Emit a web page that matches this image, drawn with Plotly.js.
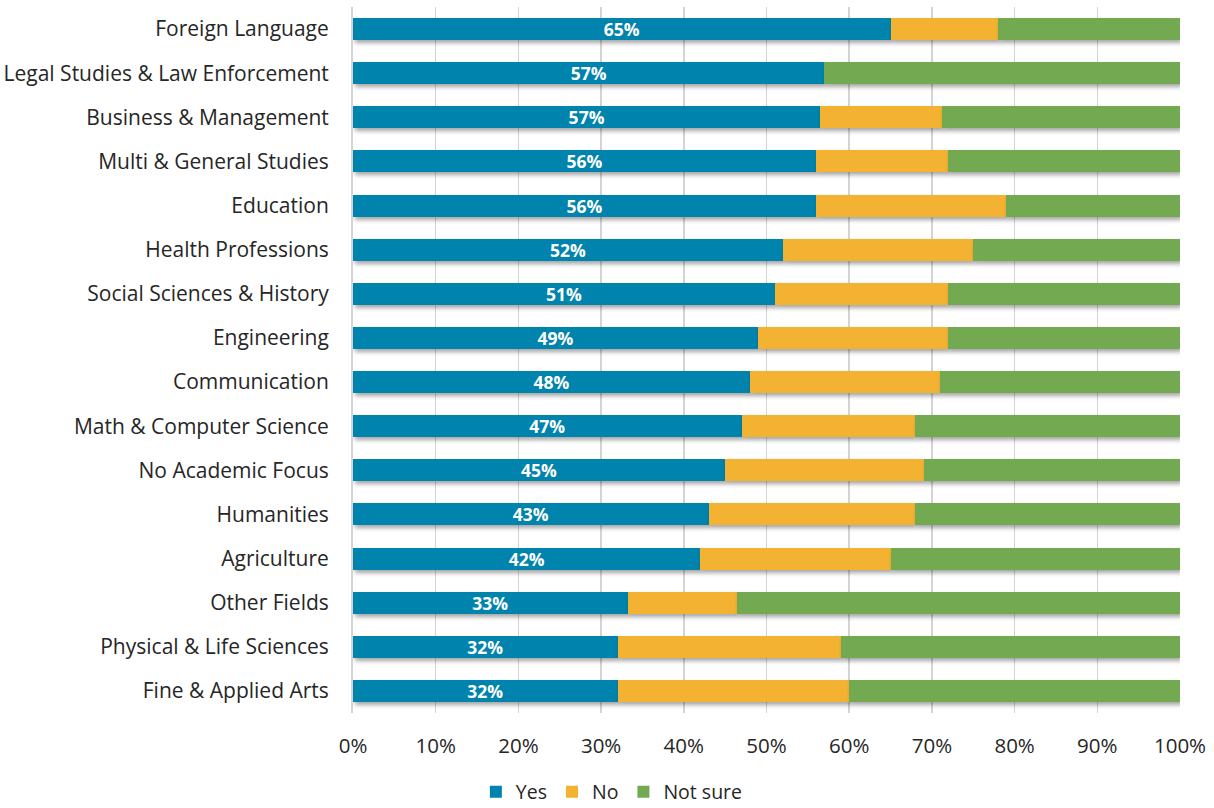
<!DOCTYPE html>
<html>
<head>
<meta charset="utf-8">
<script src="https://cdn.plot.ly/plotly-3.0.1.min.js"></script>
<style>
html,body{margin:0;padding:0;background:#fff;}
#chart{width:1214px;height:808px;}
.trace.bars .point path{filter:drop-shadow(2px 3px 2px rgba(0,0,0,0.35));}
</style>
</head>
<body>
<div id="chart"></div>
<script>
const categories = [
  "Foreign Language",
  "Legal Studies & Law Enforcement",
  "Business & Management",
  "Multi & General Studies",
  "Education",
  "Health Professions",
  "Social Sciences & History",
  "Engineering",
  "Communication",
  "Math & Computer Science",
  "No Academic Focus",
  "Humanities",
  "Agriculture",
  "Other Fields",
  "Physical & Life Sciences",
  "Fine & Applied Arts"
];
const yesValues     = [65, 57, 56.5, 56, 56, 52, 51, 49, 48, 47, 45, 43, 42, 33.2, 32, 32];
const noValues      = [13, 0, 14.7, 16, 23, 23, 21, 23, 23, 21, 24, 25, 23, 13.2, 27, 28];
const notSureValues = [22, 43, 28.8, 28, 21, 25, 28, 28, 29, 32, 31, 32, 35, 53.6, 41, 40];
const xTickValues = [0, 10, 20, 30, 40, 50, 60, 70, 80, 90, 100];
const xTickLabels = ["0%", "10%", "20%", "30%", "40%", "50%", "60%", "70%", "80%", "90%", "100%"];

const font = "'Open Sans', 'Noto Sans', sans-serif";

const traces = [
  {
    type: "bar", orientation: "h", name: "Yes",
    y: categories, x: yesValues,
    marker: {color: "#0083ac"},
    texttemplate: "<b>%{x:.0f}%</b>",
    textposition: "inside", insidetextanchor: "middle",
    textfont: {color: "#ffffff", size: 17.5, family: font},
    constraintext: "none",
    hoverinfo: "x+y"
  },
  {
    type: "bar", orientation: "h", name: "No",
    y: categories, x: noValues,
    marker: {color: "#f3b232"},
    hoverinfo: "x+y"
  },
  {
    type: "bar", orientation: "h", name: "Not sure",
    y: categories, x: notSureValues,
    marker: {color: "#73a950"},
    hoverinfo: "x+y"
  }
];

const layout = {
  width: 1214, height: 808,
  barmode: "stack",
  bargap: 0.5,
  margin: {l: 353, r: 34, t: 7, b: 95, autoexpand: false},
  paper_bgcolor: "#ffffff",
  plot_bgcolor: "#ffffff",
  font: {family: font, size: 20, color: "#262626"},
  xaxis: {
    range: [0, 100],
    tickmode: "array",
    tickvals: xTickValues,
    ticktext: xTickLabels,
    showgrid: true, gridcolor: "#d4d4d4", gridwidth: 1.5,
    zeroline: false, showline: false,
    ticks: "", ticklabelstandoff: 18,
    tickangle: 0,
    tickfont: {size: 20.5, family: font, color: "#262626"},
    fixedrange: true
  },
  yaxis: {
    autorange: "reversed",
    showline: true, linecolor: "#d4d4d4", linewidth: 2,
    ticks: "", ticklabelstandoff: 18,
    tickfont: {size: 21, family: font, color: "#262626"},
    fixedrange: true
  },
  showlegend: true,
  legend: {
    orientation: "h",
    xref: "paper", yref: "paper",
    x: 0.313, xanchor: "center",
    y: -0.112, yanchor: "middle",
    font: {size: 19.5, family: font, color: "#262626"},
    itemwidth: 30,
    traceorder: "normal"
  }
};

Plotly.newPlot("chart", traces, layout, {displayModeBar: false, staticPlot: true});
</script>
</body>
</html>
